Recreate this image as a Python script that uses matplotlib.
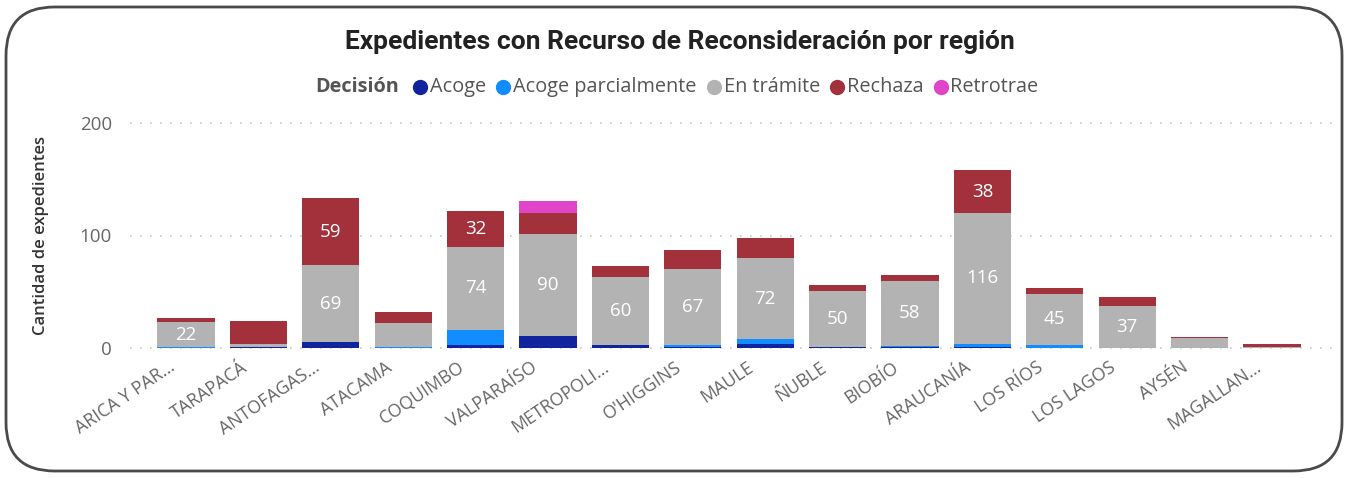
import matplotlib
matplotlib.use("Agg")
import matplotlib.pyplot as plt
from matplotlib.patches import FancyBboxPatch
from matplotlib.lines import Line2D
import numpy as np

# Data
regions = ["ARICA Y PAR...", "TARAPACÁ", "ANTOFAGAS...", "ATACAMA", "COQUIMBO",
           "VALPARAÍSO", "METROPOLI...", "O'HIGGINS", "MAULE", "ÑUBLE", "BIOBÍO",
           "ARAUCANÍA", "LOS RÍOS", "LOS LAGOS", "AYSÉN", "MAGALLAN..."]
acoge = [0, 1, 5, 0, 3, 11, 3, 1, 4, 1, 1, 1, 0, 0, 0, 0]
acoge_parcial = [1, 0, 0, 1, 13, 0, 0, 2, 4, 0, 1, 3, 3, 0, 0, 0]
en_tramite = [22, 3, 69, 21, 74, 90, 60, 67, 72, 50, 58, 116, 45, 37, 9, 1]
rechaza = [4, 20, 59, 10, 32, 19, 10, 17, 18, 5, 5, 38, 5, 8, 1, 3]
retrotrae = [0, 0, 0, 0, 0, 11, 0, 0, 0, 0, 0, 0, 0, 0, 0, 0]

series_names = ["Acoge", "Acoge parcialmente", "En trámite", "Rechaza", "Retrotrae"]
series_values = [acoge, acoge_parcial, en_tramite, rechaza, retrotrae]
series_colors = ["#12239E", "#118DFF", "#B3B3B3", "#A3313B", "#E044C8"]
yticks = [0, 100, 200]

W, H = 1348, 478
fig = plt.figure(figsize=(W / 100, H / 100), dpi=100)
fig.patch.set_facecolor("white")

# Card border
card = FancyBboxPatch((6 / W, 7 / H), (W - 12) / W, (H - 14) / H,
                      boxstyle="round,pad=0,rounding_size=0.036",
                      transform=fig.transFigure, facecolor="none",
                      edgecolor="#4a4a4a", linewidth=2.0, mutation_aspect=W / H)
fig.patches.append(card)

ax = fig.add_axes([130 / W, 130 / H, (1335 - 130) / W, (355 - 130) / H])
x = np.arange(len(regions))
bottom = np.zeros(len(regions))
bar_w = 0.79
for name, vals, col in zip(series_names, series_values, series_colors):
    vals = np.array(vals, dtype=float)
    ax.bar(x, vals, bar_w, bottom=bottom, color=col, edgecolor="none", zorder=3)
    for xi, v, b in zip(x, vals, bottom):
        if v >= 22:
            ax.text(xi, b + v / 2, f"{int(v)}", ha="center", va="center",
                    color="white", fontsize=13.5, family="Open Sans", zorder=4)
    bottom += vals

ax.set_xlim(-0.773, 15.87)
ax.set_ylim(0, 200)
ax.set_yticks(yticks)
ax.set_yticklabels([str(t) for t in yticks], family="Open Sans", fontsize=13.5, color="#666666")
ax.set_xticks(x)
ax.set_xticklabels([])
# Category labels, rotated and tucked just left of each bar centre
for xi, name in zip(x, regions):
    ax.annotate(name, xy=(xi, 0), xycoords=("data", "axes fraction"),
                xytext=(-8, -25), textcoords="offset pixels",
                rotation=34, ha="right", va="bottom", rotation_mode="anchor",
                family="Open Sans", fontsize=12.8, color="#666666",
                annotation_clip=False)
ax.tick_params(axis="y", length=0, pad=13)
ax.tick_params(axis="x", length=0)
for s in ax.spines.values():
    s.set_visible(False)
ax.grid(axis="y", color="#c8c8c8", linestyle=(0, (1, 5)), linewidth=1.2)
ax.set_axisbelow(True)
for t in ax.get_ygridlines():
    t.set_clip_on(False)
ax.set_ylabel("Cantidad de expedientes", family="Open Sans", fontsize=12,
              fontweight="semibold", color="#333333", labelpad=22)

# Title
fig.text(680 / W, 1 - 42 / H, "Expedientes con Recurso de Reconsideración por región",
         ha="center", va="center", family="Roboto", fontweight="bold",
         fontsize=19, color="#222222")

# Legend laid out as a single centred row
renderer = fig.canvas.get_renderer()
leg_y = 1 - 87 / H
t = fig.text(0, leg_y, "Decisión", ha="left", va="center", family="Open Sans",
             fontweight="bold", fontsize=14.3, color="#555555")
gap_title = 14
gap_marker = 3
gap_item = 10
marker_w = 14
widths = [t.get_window_extent(renderer).width + gap_title]
texts = []
for name in series_names:
    tt = fig.text(0, leg_y, name, ha="left", va="center", family="Open Sans",
                  fontsize=14.3, color="#555555")
    texts.append(tt)
    widths.append(marker_w + gap_marker + tt.get_window_extent(renderer).width + gap_item)
total = sum(widths) - gap_item
xpos = 677 - total / 2
t.set_x(xpos / W)
xpos += widths[0]
for tt, col, w in zip(texts, series_colors, widths[1:]):
    fig.add_artist(Line2D([(xpos + marker_w / 2) / W], [leg_y], marker="o",
                          markersize=10, color=col, transform=fig.transFigure))
    tt.set_x((xpos + marker_w + gap_marker) / W)
    xpos += w

fig.savefig("out.png", dpi=100, facecolor="white")
